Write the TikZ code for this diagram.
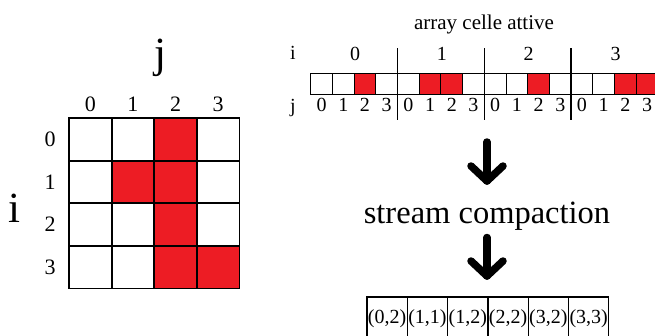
\documentclass[tikz,border=0pt]{standalone}
\usepackage{fontspec}
\setmainfont{Liberation Serif}
\usetikzlibrary{calc}
\definecolor{cellred}{HTML}{ED1C24}
\newcommand{\fsz}[1]{\fontsize{#1}{#1}\selectfont}
\tikzset{
  x=1pt, y=-1pt,
  lbl/.style={inner sep=0pt, anchor=center},
  mcell/.style={draw=black, line width=1.8pt},
  acell/.style={draw=black, line width=1pt},
  rcell/.style={draw=black, line width=1.2pt},
  sepline/.style={draw=black, line width=1.3pt},
  bigarrow/.style={draw=black, line width=7.5pt, line cap=round, line join=round},
}
\begin{document}
\begin{tikzpicture}
\useasboundingbox (0,0) rectangle (655,335);
\clip (0,0) rectangle (655,335);
\fill[white] (0,0) rectangle (655,335);

% ---- 4x4 matrix of active cells ----
\def\mx{69}\def\my{118}\def\mc{42.6}
\foreach \r in {0,...,3}{
  \foreach \c in {0,...,3}{
    \path[mcell, fill=white] (\mx+\c*\mc, \my+\r*\mc) rectangle ++(\mc,\mc);
  }
}
\foreach \r/\c in {0/2,1/1,1/2,2/2,3/2,3/3}{
  \path[mcell, fill=cellred] (\mx+\c*\mc, \my+\r*\mc) rectangle ++(\mc,\mc);
}
\foreach \k in {0,...,3}{
  \node[lbl, font=\fsz{22}] (mj\k) at (\mx+\mc/2+\k*\mc, 104.5) {\k};
  \node[lbl, font=\fsz{22}] (mi\k) at (50, \my+\mc/2+\k*\mc) {\k};
}
\node[lbl, font=\fsz{43}] (bigj) at (160, 57.5) {j};
\node[lbl, font=\fsz{43}] (bigi) at (14, 208) {i};

% ---- flattened array ----
\node[lbl, font=\fsz{21}] (title) at (484, 24) {array celle attive};
\def\ax{310.7}\def\ay{73}\def\aw{21.7}\def\ah{21}
\foreach \n in {0,...,15}{
  \path[acell, fill=white] (\ax+\n*\aw, \ay) rectangle ++(\aw,\ah);
}
\foreach \n in {2,5,6,10,14,15}{
  \path[acell, fill=cellred] (\ax+\n*\aw, \ay) rectangle ++(\aw,\ah);
}
\foreach \g in {1,2,3}{
  \draw[sepline] (\ax+4*\g*\aw, 48) -- (\ax+4*\g*\aw, 120);
}
\node[lbl, font=\fsz{20}] (ai) at (293, 53) {i};
\node[lbl, font=\fsz{20}] (aj) at (293, 108.5) {j};
\foreach \g in {0,...,3}{
  \node[lbl, font=\fsz{20}] (ag\g) at (\ax+2*\aw+4*\g*\aw+1, 54) {\g};
  \foreach \k in {0,...,3}{
    \node[lbl, font=\fsz{20}] (ad\g\k) at (\ax+\aw/2+4*\g*\aw+\k*\aw, 105) {\k};
  }
}

% ---- compaction step ----
\node[lbl, font=\fsz{32.5}] (sc) at (487, 216) {stream compaction};
\coordinate (a1top) at (487, 142);
\coordinate (a1tip) at (487, 181);
\coordinate (a2top) at (487, 237.5);
\coordinate (a2tip) at (487, 276);
\draw[bigarrow] (a1top) -- (a1tip);
\draw[bigarrow] ($(a1tip)+(-16,-15)$) -- (a1tip) -- ($(a1tip)+(16,-15)$);
\draw[bigarrow] (a2top) -- (a2tip);
\draw[bigarrow] ($(a2tip)+(-16,-15)$) -- (a2tip) -- ($(a2tip)+(16,-15)$);

% ---- compacted list of coordinates ----
\def\bx{367}\def\bw{40.3}
\foreach \t [count=\n from 0] in {(0,2),(1,1),(1,2),(2,2),(3,2),(3,3)}{
  \path[rcell, fill=white] (\bx+\n*\bw, 297) rectangle ++(\bw, 50);
  \node[lbl, font=\fsz{20}] (res\n) at (\bx+\bw/2+\n*\bw, 319) {\t};
}
\end{tikzpicture}
\end{document}
